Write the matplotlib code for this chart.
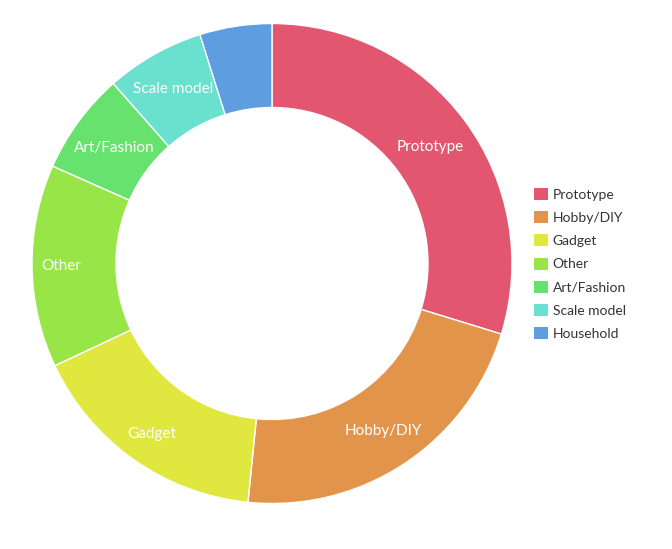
import numpy as np
import matplotlib.pyplot as plt
from matplotlib.patches import Patch

# =====================================================
# DATA
# =====================================================

categories = ['Prototype', 'Hobby/DIY', 'Gadget', 'Other',
              'Art/Fashion', 'Scale model', 'Household']
shares = [29.75, 21.85, 16.4, 13.65, 6.85, 6.65, 4.85]
colors = ['#e3566f', '#e2944b', '#e0e73f', '#98e548',
          '#68e26f', '#6ae0cf', '#5e9de0']
show_label = [True, True, True, True, True, True, False]

# label distance from centre, as a fraction of the outer radius
label_radius = [0.82, 0.84, 0.87, 0.88, 0.815, 0.835, 0.83]

# =====================================================
# PLOT
# =====================================================

plt.rcParams['font.family'] = ['Lato', 'DejaVu Sans']

fig = plt.figure(figsize=(6.72, 5.49), dpi=100)
ax = fig.add_axes([32 / 672, 45.5 / 549, 480 / 672, 480 / 549])

inner = 0.65
wedges, _ = ax.pie(
    shares,
    colors=colors,
    startangle=90,
    counterclock=False,
    radius=1.0,
    wedgeprops=dict(width=1 - inner, edgecolor='white', linewidth=1),
)

for w, name, show, r in zip(wedges, categories, show_label, label_radius):
    if not show:
        continue
    ang = np.deg2rad((w.theta1 + w.theta2) / 2)
    ax.text(r * np.cos(ang), r * np.sin(ang), name,
            ha='center', va='center', color='white', fontsize=11)

ax.set_xlim(-1, 1)
ax.set_ylim(-1, 1)
ax.set_aspect('equal')
ax.axis('off')

handles = [Patch(facecolor=c, edgecolor='none') for c in colors]
fig.legend(
    handles, categories,
    loc='center left',
    bbox_to_anchor=(534 / 672, 1 - 264 / 549),
    frameon=False,
    fontsize=10,
    handlelength=1.0,
    handleheight=0.95,
    handletextpad=0.35,
    labelspacing=0.75,
    borderaxespad=0,
    borderpad=0,
    labelcolor='#333333',
)

plt.savefig("out.png", dpi=100)
plt.close()
